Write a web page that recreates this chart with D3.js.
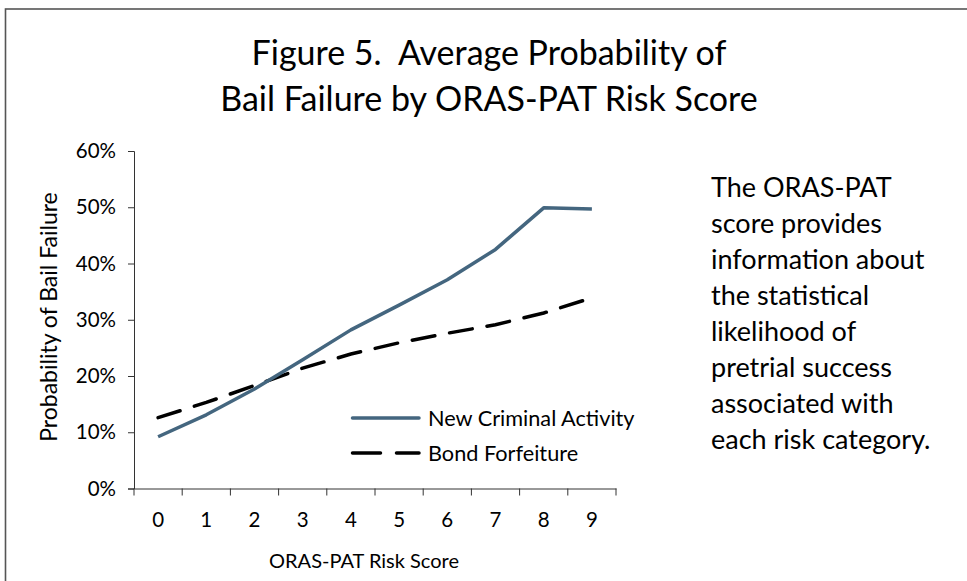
<!DOCTYPE html>
<html>
<head>
<meta charset="utf-8">
<script src="https://cdn.jsdelivr.net/npm/d3@7"></script>
<style>
  body { margin: 0; background: #fff; }
  svg text { font-family: Lato, "Open Sans", sans-serif; fill: #000; white-space: pre; }
</style>
</head>
<body>
<svg id="chart" width="967" height="581"></svg>
<script>
// data
const scores = ["0", "1", "2", "3", "4", "5", "6", "7", "8", "9"];
const newCriminal = [0.092, 0.131, 0.177, 0.229, 0.282, 0.326, 0.371, 0.425, 0.499, 0.497];
const bondForfeit = [0.126, 0.153, 0.183, 0.214, 0.239, 0.259, 0.276, 0.291, 0.312, 0.339];
const yTicks = [0, 0.1, 0.2, 0.3, 0.4, 0.5, 0.6];
const titleLines = ["Figure 5.  Average Probability of", "Bail Failure by ORAS-PAT Risk Score"];
const noteLines = ["The ORAS-PAT", "score provides", "information about", "the statistical",
  "likelihood of", "pretrial success", "associated with", "each risk category."];

const svg = d3.select("#chart");

// outer frame (runs off right and bottom edges)
svg.append("rect")
  .attr("x", 5.5).attr("y", 9)
  .attr("width", 1000).attr("height", 620)
  .attr("fill", "none")
  .attr("stroke", "#555")
  .attr("stroke-width", 1.6);

// title
svg.append("g").selectAll("text")
  .data(titleLines)
  .enter()
  .append("text")
  .attr("x", 489)
  .attr("y", (d, i) => 65 + i * 46)
  .attr("text-anchor", "middle")
  .attr("font-size", "34px")
  .text(d => d);

const x = d3.scaleBand().domain(scores).range([134, 616]);
const y = d3.scaleLinear().domain([0, 0.6]).range([488.5, 151]);

// y axis
const yAxis = svg.append("g")
  .attr("transform", "translate(134,0)")
  .call(d3.axisLeft(y).tickValues(yTicks).tickFormat(d3.format(".0%")).tickSize(6).tickPadding(12));
yAxis.selectAll("text").attr("font-size", "20.5px").style("font-family", "Lato, sans-serif");
yAxis.selectAll("line, path").attr("stroke", "#333");

// x axis: labels at centres, ticks at category boundaries like Excel
const xAxis = svg.append("g")
  .attr("transform", "translate(0,488.5)")
  .call(d3.axisBottom(x).tickSize(0).tickPadding(24));
xAxis.selectAll("text").attr("font-size", "20.5px").style("font-family", "Lato, sans-serif");
xAxis.select("path").attr("stroke", "#333");
xAxis.append("g").selectAll("line")
  .data(scores.concat(["end"]))
  .enter()
  .append("line")
  .attr("x1", d => d == "end" ? x.range()[1] : x(d))
  .attr("x2", d => d == "end" ? x.range()[1] : x(d))
  .attr("y1", 0).attr("y2", 7)
  .attr("stroke", "#333");

// axis titles
svg.append("text")
  .attr("x", 364).attr("y", 568)
  .attr("text-anchor", "middle")
  .attr("font-size", "20px")
  .text("ORAS-PAT Risk Score");

svg.append("text")
  .attr("transform", "translate(57,317) rotate(-90)")
  .attr("text-anchor", "middle")
  .attr("font-size", "23px")
  .text("Probability of Bail Failure");

// lines
const line = d3.line()
  .x((d, i) => x(scores[i]) + x.bandwidth() / 2)
  .y(d => y(d));

svg.append("path")
  .datum(bondForfeit)
  .attr("d", line)
  .attr("fill", "none")
  .attr("stroke", "#000")
  .attr("stroke-width", 3.5)
  .attr("stroke-dasharray", "23,15")
  .attr("stroke-linecap", "round");

svg.append("path")
  .datum(newCriminal)
  .attr("d", line)
  .attr("fill", "none")
  .attr("stroke", "#44667f")
  .attr("stroke-width", 3.5)
  .attr("stroke-linejoin", "round");

// legend
const legend = svg.append("g").attr("transform", "translate(351,418)");
const legendItems = [
  { name: "New Criminal Activity", color: "#44667f", dash: null },
  { name: "Bond Forfeiture", color: "#000", dash: "28,16" }
];
const li = legend.selectAll("g")
  .data(legendItems)
  .enter()
  .append("g")
  .attr("transform", (d, i) => `translate(0,${i * 35})`);
li.append("line")
  .attr("x1", 1.5).attr("x2", 68)
  .attr("stroke", d => d.color)
  .attr("stroke-width", 3.5)
  .attr("stroke-linecap", "round")
  .attr("stroke-dasharray", d => d.dash);
li.append("text")
  .attr("x", 77)
  .attr("dy", "0.35em")
  .attr("font-size", "21.7px")
  .text(d => d.name);

// side note
svg.append("g").selectAll("text")
  .data(noteLines)
  .enter()
  .append("text")
  .attr("x", 711)
  .attr("y", (d, i) => 197 + i * 36)
  .attr("font-size", "27px")
  .attr("fill", "#1a1a1a")
  .text(d => d);
</script>
</body>
</html>
